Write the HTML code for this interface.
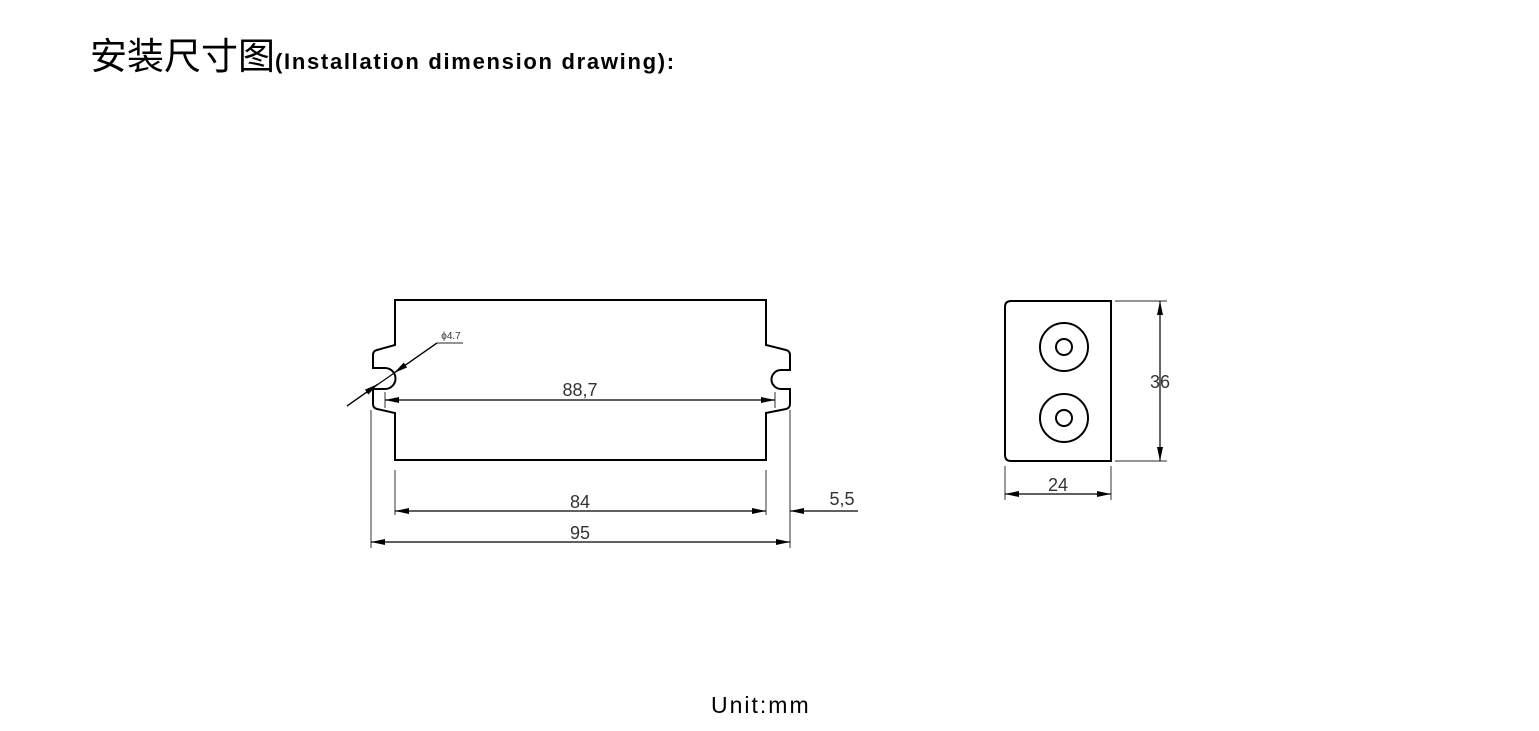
<!DOCTYPE html>
<html><head><meta charset="utf-8"><style>
body{margin:0;background:#fff;width:1539px;height:731px;overflow:hidden;position:relative;font-family:"Liberation Sans","Noto Sans CJK SC",sans-serif}
.t{position:absolute;left:90px;top:26px;font-size:37px;color:#000;white-space:nowrap}
.t b{font-size:22px;letter-spacing:1.7px}
.u{position:absolute;left:711px;top:692px;font-size:23px;letter-spacing:2px}
</style></head><body>
<div class="t">安装尺寸图<b>(Installation dimension drawing):</b></div>
<svg width="1539" height="731" style="position:absolute;left:0;top:0">
<defs><marker id="a" markerWidth="14" markerHeight="6" refX="14" refY="3" orient="auto-start-reverse" markerUnits="userSpaceOnUse"><path d="M0,0L14,3L0,6z" fill="#000"/></marker></defs>
<g fill="none" stroke="#000" stroke-width="2">
<path d="M395,300H766V345L786,350Q790,351 790,355V370H781A9.5,9.5 0 0 0 781,389H790V404Q790,408 786,409L766,413V460H395V413L377,409Q373,408 373,404V389H385A10.5,10.5 0 0 0 385,368H373V355Q373,351 377,350L395,345Z"/>
<path d="M1011,301H1111V461H1011Q1005,461 1005,455V307Q1005,301 1011,301Z"/>
<circle cx="1064" cy="347" r="24"/><circle cx="1064" cy="347" r="8"/>
<circle cx="1064" cy="418" r="24"/><circle cx="1064" cy="418" r="8"/>
</g>
<g stroke="#555" stroke-width="1.2" fill="none">
<line x1="395" y1="470" x2="395" y2="515"/><line x1="766" y1="470" x2="766" y2="515"/>
<line x1="371" y1="410" x2="371" y2="548"/><line x1="790" y1="410" x2="790" y2="548"/>
<line x1="385" y1="392" x2="385" y2="408"/><line x1="775" y1="392" x2="775" y2="408"/>
<line x1="1115" y1="301" x2="1167" y2="301"/><line x1="1115" y1="461" x2="1167" y2="461"/>
<line x1="1005" y1="466" x2="1005" y2="500"/><line x1="1111" y1="466" x2="1111" y2="500"/>
<line x1="437" y1="343" x2="463" y2="343"/>
</g>
<g stroke="#000" stroke-width="1.2" fill="none">
<line x1="385" y1="400" x2="775" y2="400" marker-start="url(#a)" marker-end="url(#a)"/>
<line x1="395" y1="511" x2="766" y2="511" marker-start="url(#a)" marker-end="url(#a)"/>
<line x1="371" y1="542" x2="790" y2="542" marker-start="url(#a)" marker-end="url(#a)"/>
<line x1="858" y1="511" x2="790" y2="511" marker-end="url(#a)"/>
<line x1="1160" y1="301" x2="1160" y2="461" marker-start="url(#a)" marker-end="url(#a)"/>
<line x1="1005" y1="494" x2="1111" y2="494" marker-start="url(#a)" marker-end="url(#a)"/>
<line x1="347" y1="406" x2="437" y2="343"/>
<line x1="437" y1="343" x2="394" y2="373" marker-end="url(#a)"/>
<line x1="347" y1="406" x2="378" y2="384" marker-end="url(#a)"/>
</g>
<g font-family="Liberation Sans,sans-serif" fill="#333" font-size="18">
<text x="580" y="396" text-anchor="middle">88,7</text>
<text x="580" y="508" text-anchor="middle">84</text>
<text x="580" y="539" text-anchor="middle">95</text>
<text x="842" y="505" text-anchor="middle">5,5</text>
<text x="1160" y="388" text-anchor="middle">36</text>
<text x="1058" y="491" text-anchor="middle">24</text>
<text x="451" y="339" text-anchor="middle" font-size="10">ϕ4.7</text>
</g>
</svg>
<div class="u">Unit:mm</div>
</body></html>
